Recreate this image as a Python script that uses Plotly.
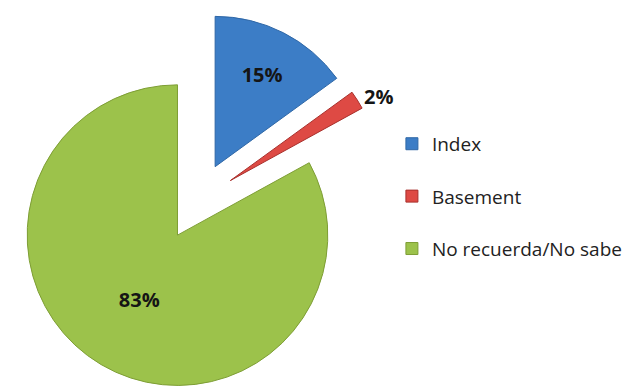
import plotly.graph_objects as go

categories = ["Index", "Basement", "No recuerda/No sabe"]
values = [15, 2, 83]
text_labels = ["15%", "2%", "83%"]
colors = ["#3C7DC6", "#DE4A44", "#9CC24B"]
edge_colors = ["#2F67A6", "#A8302C", "#7E9E35"]
text_positions = ["inside", "outside", "inside"]

legend_labels = [c + "<br>\u00a0" for c in categories]

fig = go.Figure(
    go.Pie(
        labels=legend_labels,
        values=values,
        text=text_labels,
        textinfo="text",
        textposition=text_positions,
        insidetextorientation="horizontal",
        textfont=dict(family="Open Sans, sans-serif", size=20, color="#151515", weight="bold"),
        sort=False,
        direction="clockwise",
        rotation=0,
        pull=[0.26, 0.26, 0.26],
        marker=dict(colors=colors, line=dict(color=edge_colors, width=1)),
        domain=dict(x=[0, 0.59], y=[0, 1]),
        hoverinfo="label+percent",
        automargin=False,
    )
)

fig.update_layout(
    width=642,
    height=387,
    margin=dict(l=0, r=0, t=0, b=0, autoexpand=False),
    paper_bgcolor="white",
    plot_bgcolor="white",
    showlegend=True,
    legend=dict(
        xref="container",
        yref="container",
        x=0.598,
        y=0.698,
        xanchor="left",
        yanchor="top",
        valign="top",
        font=dict(family="Open Sans, sans-serif", size=19, color="#222222"),
        bgcolor="rgba(0,0,0,0)",
        itemwidth=30,
    ),
)

fig.write_html("out.html")
